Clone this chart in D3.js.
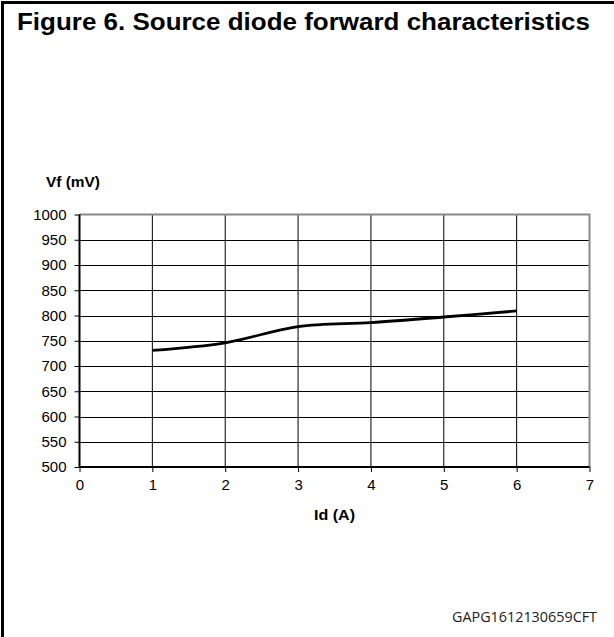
<!DOCTYPE html>
<html>
<head>
<meta charset="utf-8">
<script src="https://cdn.jsdelivr.net/npm/d3@7"></script>
<style>
  html, body { margin: 0; padding: 0; background: #fff; }
  svg { display: block; }
</style>
</head>
<body>
<svg id="chart" width="614" height="637"></svg>
<script>
// ---- data ----
const titleText = "Figure 6. Source diode forward characteristics";
const yAxisLabel = "Vf (mV)";
const xAxisLabel = "Id (A)";
const codeLabel = "GAPG1612130659CFT";
const currentA = [1, 2, 3, 4, 5, 6];
const vfMilliVolt = [731, 746, 778, 786, 797, 809];
const xTicks = [0, 1, 2, 3, 4, 5, 6, 7];
const yTicks = [500, 550, 600, 650, 700, 750, 800, 850, 900, 950, 1000];

// ---- layout ----
const svg = d3.select("#chart");
const W = 614, H = 637;
const plot = { left: 79.5, right: 589.5, top: 214.5, bottom: 467 };
const fontFam = "Liberation Sans, Arial, sans-serif";

// frame
svg.append("rect")
  .attr("x", 2.5).attr("y", 2.5)
  .attr("width", W + 10).attr("height", H + 10)
  .attr("fill", "none").attr("stroke", "#000").attr("stroke-width", 3);

// title
svg.append("text")
  .attr("x", 17).attr("y", 30)
  .attr("font-family", fontFam)
  .attr("font-weight", "bold").attr("font-size", 23)
  .attr("textLength", 573).attr("lengthAdjust", "spacingAndGlyphs")
  .attr("fill", "#000")
  .text(titleText);

const x = d3.scaleLinear().domain([0, 7]).range([plot.left, plot.right]);
const y = d3.scaleLinear().domain([500, 1000]).range([plot.bottom, plot.top]);

const g = svg.append("g");

// horizontal grid
g.append("g")
  .selectAll("line")
  .data(yTicks.filter(v => v > 500 && v < 1000))
  .join("line")
  .attr("x1", plot.left).attr("x2", plot.right)
  .attr("y1", d => Math.round(y(d)) + 0.5).attr("y2", d => Math.round(y(d)) + 0.5)
  .attr("stroke", "#000").attr("stroke-width", 1);

// vertical grid
g.append("g")
  .selectAll("line")
  .data(xTicks.filter(v => v > 0 && v < 7))
  .join("line")
  .attr("x1", d => x(d)).attr("x2", d => x(d))
  .attr("y1", plot.top).attr("y2", plot.bottom)
  .attr("stroke", "#000").attr("stroke-width", 1);

// top and right border (gray)
g.append("path")
  .attr("d", `M${plot.left},${plot.top}H${plot.right}V${plot.bottom}`)
  .attr("fill", "none").attr("stroke", "#888").attr("stroke-width", 2);

// axes
const yAxis = d3.axisLeft(y).tickValues(yTicks).tickSize(5).tickPadding(8).tickFormat(d3.format("d"));
const yg = svg.append("g").attr("transform", `translate(${plot.left},0)`).call(yAxis);
const xAxis = d3.axisBottom(x).tickValues(xTicks).tickSize(5).tickPadding(7).tickFormat(d3.format("d"));
const xg = svg.append("g").attr("transform", `translate(0,${plot.bottom})`).call(xAxis);

[yg, xg].forEach(a => {
  a.select(".domain").attr("stroke", "#000").attr("stroke-width", 2)
    .attr("d", a === yg ? `M0,${plot.top}V${plot.bottom}` : `M${plot.left},0H${plot.right}`);
  a.selectAll(".tick line").attr("stroke", "#000").attr("stroke-width", 1);
  a.selectAll(".tick text").attr("font-family", fontFam).attr("font-size", 15).attr("fill", "#000");
});

// line
const line = d3.line()
  .x((d, i) => x(currentA[i]))
  .y(d => y(d))
  .curve(d3.curveCatmullRom.alpha(0.5));
svg.append("path")
  .datum(vfMilliVolt)
  .attr("d", line)
  .attr("fill", "none").attr("stroke", "#000").attr("stroke-width", 2.8);

// axis labels
svg.append("text")
  .attr("x", 46).attr("y", 187)
  .attr("font-family", fontFam).attr("font-weight", "bold").attr("font-size", 14)
  .attr("textLength", 54).attr("lengthAdjust", "spacingAndGlyphs")
  .text(yAxisLabel);
svg.append("text")
  .attr("x", (x(3) + x(4)) / 2).attr("y", 520)
  .attr("text-anchor", "middle")
  .attr("font-family", fontFam).attr("font-weight", "bold").attr("font-size", 14)
  .attr("textLength", 41).attr("lengthAdjust", "spacingAndGlyphs")
  .text(xAxisLabel);

// code label
svg.append("text")
  .attr("x", 452).attr("y", 622)
  .attr("font-family", "Open Sans, sans-serif").attr("font-size", 14.5)
  .attr("textLength", 145).attr("lengthAdjust", "spacingAndGlyphs")
  .attr("fill", "#222")
  .text(codeLabel);
</script>
</body>
</html>
